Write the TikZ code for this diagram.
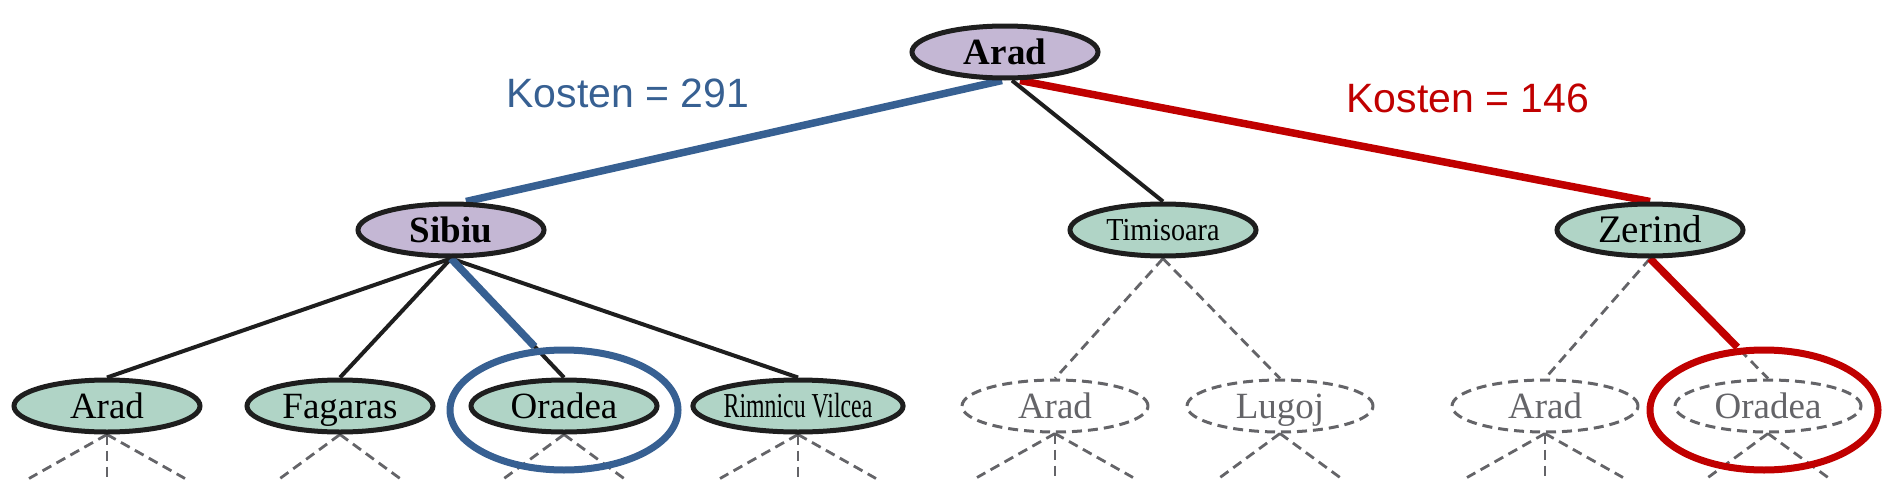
\documentclass[tikz,border=0pt]{standalone}
\usepackage{graphicx}
\usepackage{fontspec}
\setmainfont{Liberation Serif}
\newfontfamily\arialf{Liberation Sans}
\usetikzlibrary{shapes.geometric,calc,backgrounds}
\definecolor{nodepurple}{RGB}{196,183,212}
\definecolor{nodegreen}{RGB}{176,212,198}
\definecolor{pathblue}{RGB}{55,96,146}
\definecolor{pathred}{RGB}{192,0,0}
\definecolor{ghost}{RGB}{100,100,104}
\definecolor{edgeblack}{RGB}{30,30,30}
\begin{document}
\begin{tikzpicture}[x=0.5pt,y=-0.5pt,
  base/.style={ellipse, inner sep=0pt, minimum width=93pt, minimum height=26pt,
    text height=12.25pt, text depth=0pt,
    font=\fontsize{18.5pt}{20pt}\selectfont},
  explored/.style={base, draw=edgeblack, line width=2.5pt, fill=nodepurple},
  frontier/.style={base, draw=edgeblack, line width=2.5pt, fill=nodegreen},
  unseen/.style={base, draw=ghost, dash pattern=on 5pt off 3pt, line width=1.5pt, text=ghost},
  treeedge/.style={draw=edgeblack, line width=2pt},
  ghostedge/.style={draw=ghost, line width=1.4pt, dash pattern=on 5pt off 3pt},
  bluepath/.style={draw=pathblue, line width=3.75pt},
  redpath/.style={draw=pathred, line width=3.75pt},
  ring/.style={ellipse, inner sep=0pt, minimum width=114pt, minimum height=60pt, line width=3.5pt},
  costlabel/.style={font=\arialf\fontsize{20.5pt}{22pt}\selectfont, inner sep=0pt}
]
\useasboundingbox (0,0) rectangle (1895,503);

% level 1
\node[explored, font=\bfseries\fontsize{18.5pt}{20pt}\selectfont] (root) at (1005,52) {Arad};
% level 2
\node[explored, font=\bfseries\fontsize{18.5pt}{20pt}\selectfont] (sibiu) at (451,230) {Sibiu};
\node[frontier, text height=10.6pt, font=\fontsize{16pt}{18pt}\selectfont] (timisoara) at (1163,230) {\scalebox{0.88}[1]{Timisoara}};
\node[frontier, text height=12.9pt, font=\fontsize{19.5pt}{21pt}\selectfont] (zerind) at (1650,230) {Zerind};
% level 3
\node[frontier] (arad1) at (107,406) {Arad};
\node[frontier] (fagaras) at (340,406) {Fagaras};
\node[frontier] (oradea1) at (564,406) {Oradea};
\node[frontier, text height=11.6pt, font=\fontsize{17.5pt}{19pt}\selectfont] (rimnicu) at (798,406) {\scalebox{0.68}[1]{Rimnicu Vilcea}};
\node[unseen] (arad2) at (1055,406) {Arad};
\node[unseen] (lugoj) at (1280,406) {Lugoj};
\node[unseen] (arad3) at (1545,406) {Arad};
\node[unseen] (oradea2) at (1768,406) {Oradea};

% cost labels
\node[costlabel, text=pathblue] (cost1) at (628,93) {Kosten = 291};
\node[costlabel, text=pathred] (cost2) at (1468,98) {Kosten = 146};

\begin{scope}[on background layer]
  % edges from root
  \draw[treeedge] ($(root.south)+(7,0)$) -- (timisoara.north);
  \draw[bluepath] ($(root.south)+(-3,0)$) -- ($(sibiu.north)+(15,0)$);
  \draw[redpath] ($(root.south)+(15,0)$) -- (zerind.north);
  % edges from Sibiu
  \draw[treeedge] (sibiu.south) -- (arad1.north);
  \draw[treeedge] (sibiu.south) -- (fagaras.north);
  \draw[treeedge] (sibiu.south) -- (oradea1.north);
  \draw[treeedge] (sibiu.south) -- (rimnicu.north);
  % unexplored edges
  \draw[ghostedge] (timisoara.south) -- (arad2.north);
  \draw[ghostedge] (timisoara.south) -- (lugoj.north);
  \draw[ghostedge] (zerind.south) -- (arad3.north);
  \draw[ghostedge] (zerind.south) -- (oradea2.north);
  % highlighted partial paths
  \coordinate (bend) at ($(sibiu.south)!0.74!(oradea1.north)$);
  \coordinate (rend) at ($(zerind.south)!0.74!(oradea2.north)$);
  \draw[bluepath] (sibiu.south) -- (bend);
  \draw[redpath] (zerind.south) -- (rend);
  % stubs below level 3
  \foreach \n in {arad1,rimnicu,arad2,arad3} {
    \coordinate (\n-l) at ($(\n.south)+(-78,44)$);
    \coordinate (\n-m) at ($(\n.south)+(0,44)$);
    \coordinate (\n-r) at ($(\n.south)+(78,44)$);
    \draw[ghostedge] (\n.south) -- (\n-l);
    \draw[ghostedge] (\n.south) -- (\n-m);
    \draw[ghostedge] (\n.south) -- (\n-r);
  }
  \foreach \n in {fagaras,oradea1,lugoj,oradea2} {
    \coordinate (\n-l) at ($(\n.south)+(-60,44)$);
    \coordinate (\n-r) at ($(\n.south)+(60,44)$);
    \draw[ghostedge] (\n.south) -- (\n-l);
    \draw[ghostedge] (\n.south) -- (\n-r);
  }
\end{scope}

% highlight rings
\node[ring, draw=pathblue] (bluering) at (564,410) {};
\node[ring, draw=pathred] (redring) at (1764,410) {};
\end{tikzpicture}
\end{document}
